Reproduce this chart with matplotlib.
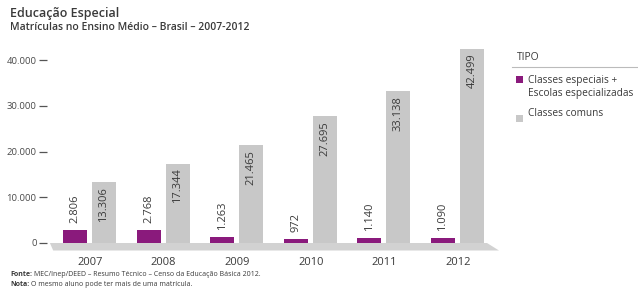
import matplotlib.pyplot as plt
from matplotlib.patches import Polygon, Rectangle

plt.rcParams['font.family'] = ['Open Sans', 'DejaVu Sans']

# data
anos = ['2007', '2008', '2009', '2010', '2011', '2012']
especiais = [2806, 2768, 1263, 972, 1140, 1090]
comuns = [13306, 17344, 21465, 27695, 33138, 42499]
y_ticks = [0, 10000, 20000, 30000, 40000]
y_tick_labels = ['0', '10.000', '20.000', '30.000', '40.000']

ROXO = '#8a1a7c'
CINZA = '#c8c8c8'
PISO = '#d2d2d2'
TXT = '#3a3a3a'


def fmt(v):
    return '{:,}'.format(v).replace(',', '.')


W, H = 638, 297
fig = plt.figure(figsize=(W / 100, H / 100), dpi=100)

# pixel geometry of the plot area
k = 183 / 40000.0          # px per unit
step = 73.6                # px per category
x0 = 90                    # px centre of first category
left_px, right_px = 47, 505
top_px, bot_px = 38, 252
ax = fig.add_axes([left_px / W, (H - bot_px) / H, (right_px - left_px) / W, (bot_px - top_px) / H])
ax.set_xlim((left_px - x0) / step, (right_px - x0) / step)
ax.set_ylim(-(bot_px - 243) / k, (243 - top_px) / k)

xs = list(range(len(anos)))
bw = 24 / step
off_r = -15 / step
off_c = 14 / step

# floor
piso = Polygon([(-0.545, 0), (5.394, 0), (5.557, -7.5 / k), (-0.50, -7.5 / k)],
               closed=True, facecolor=PISO, edgecolor='none', zorder=1)
ax.add_patch(piso)

b1 = ax.bar([x + off_r for x in xs], especiais, width=bw, color=ROXO, zorder=2)
b2 = ax.bar([x + off_c for x in xs], comuns, width=bw, color=CINZA, zorder=2)

for x, v in zip(xs, especiais):
    ax.annotate(fmt(v), (x + off_r, v), xytext=(0, 5), textcoords='offset points',
                rotation=90, ha='center', va='bottom', fontsize=8, color=TXT)
for x, v in zip(xs, comuns):
    ax.annotate(fmt(v), (x + off_c, v), xytext=(0, -3.5), textcoords='offset points',
                rotation=90, ha='center', va='top', fontsize=8, color=TXT)

ax.set_yticks(y_ticks)
ax.set_yticklabels(y_tick_labels, fontsize=6.8, color='#4a4a4a')
ax.tick_params(axis='y', length=6, width=0.9, color='#555555', pad=1.5)
ax.set_xticks(xs)
ax.set_xticklabels(anos, fontsize=8, color=TXT)
ax.tick_params(axis='x', length=0, pad=3.5)
for s in ax.spines.values():
    s.set_visible(False)
ax.patch.set_visible(False)

# overlay in pixel coordinates for legend and texts
ov = fig.add_axes([0, 0, 1, 1])
ov.set_xlim(0, W)
ov.set_ylim(H, 0)
ov.axis('off')

ov.text(10, 13, 'Educação Especial', fontsize=9, fontweight='semibold', color=TXT, va='center')
ov.text(10, 28, 'Matrículas no Ensino Médio – Brasil – 2007-2012', fontsize=7.5,
        fontweight='semibold', color=TXT, va='center')

ov.text(517, 58, 'TIPO', fontsize=7.5, color=TXT, va='center')
ov.plot([512, 638], [66.5, 66.5], color='#bbbbbb', lw=0.8)
ov.add_patch(Rectangle((516, 76), 7, 7, facecolor=ROXO, edgecolor='none'))
ov.text(528, 80, 'Classes especiais +', fontsize=7.3, color=TXT, va='center')
ov.text(528, 93.5, 'Escolas especializadas', fontsize=7.3, color=TXT, va='center')
ov.add_patch(Rectangle((516, 115), 7, 7, facecolor=CINZA, edgecolor='none'))
ov.text(528, 113, 'Classes comuns', fontsize=7.3, color=TXT, va='center')

# footnotes: bold label followed by normal text
renderer = fig.canvas.get_renderer()
notas = [('Fonte:', 'MEC/Inep/DEED – Resumo Técnico – Censo da Educação Básica 2012.', 275),
         ('Nota:', 'O mesmo aluno pode ter mais de uma matrícula.', 284.5)]
for rot, corpo, yy in notas:
    t = ov.text(10, yy, rot, fontsize=5.0, fontweight='bold', color=TXT, va='center')
    bb = t.get_window_extent(renderer=renderer)
    ov.text(bb.x1 + 2, yy, corpo, fontsize=5.0, color=TXT, va='center')

fig.savefig('out.png', dpi=100, facecolor='white')
